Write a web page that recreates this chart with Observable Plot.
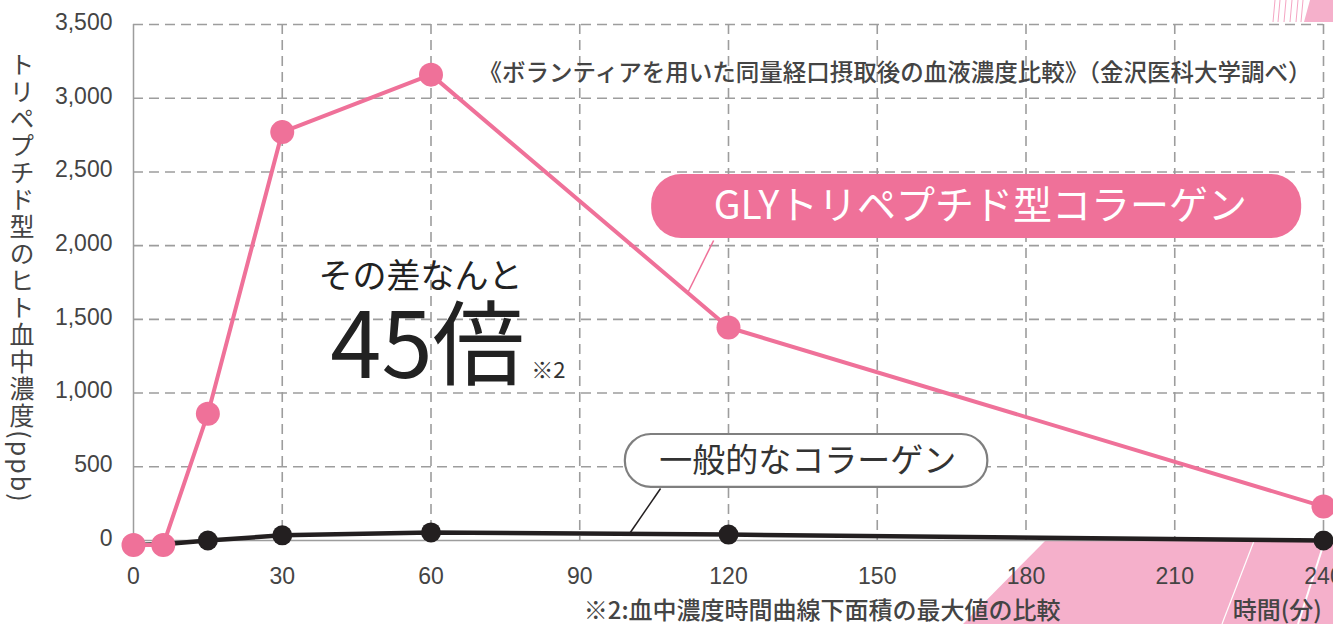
<!DOCTYPE html>
<html>
<head>
<meta charset="utf-8">
<script src="https://cdn.jsdelivr.net/npm/d3@7"></script>
<script src="https://cdn.jsdelivr.net/npm/@observablehq/plot@0.6"></script>
<style>
  html, body { margin: 0; padding: 0; background: #fff; overflow: hidden; }
  #chart svg { display: block; }
</style>
</head>
<body>
<div id="chart"></div>
<script>
// ---- data ----
const times = [0, 6, 15, 30, 60, 120, 240];
const glyValues = [-30, -30, 860, 2770, 3160, 1445, 230];
const genValues = [-30, -25, 0, 35, 55, 40, 0];
const yTicks = [0, 500, 1000, 1500, 2000, 2500, 3000, 3500];
const xTicks = [0, 30, 60, 90, 120, 150, 180, 210, 240];
const glyLabel = ["GLYトリペプチド型コラーゲン"];
const genLabel = ["一般的なコラーゲン"];
const titleText = ["《ボランティアを用いた同量経口摂取後の血液濃度比較》（金沢医科大学調べ）"];
const leadText = ["その差なんと"];
const bigText = ["45倍"];
const noteMark = ["※2"];
const footText = ["※2:血中濃度時間曲線下面積の最大値の比較"];
const xLabel = ["時間(分)"];
const yLabel = "トリペプチド型のヒト血中濃度(ppb)";

const gly = times.map((t, i) => ({t, v: glyValues[i]}));
const gen = times.map((t, i) => ({t, v: genValues[i]}));

const PINK = "#ef7199";
const BLACK = "#231f20";
const GRID = "#9d9d9d";
const FONT = '"Liberation Sans", "Noto Sans CJK JP", sans-serif';
const JFONT = '"Noto Sans CJK JP", "Liberation Sans", sans-serif';

const chart = Plot.plot({
  width: 1333,
  height: 624,
  marginLeft: 133,
  marginRight: 10,
  marginTop: 24,
  marginBottom: 84,
  style: {fontFamily: FONT, fontSize: "23px", color: "#444", background: "white", overflow: "visible"},
  x: {domain: [0, 240]},
  y: {domain: [0, 3500]},
  marks: [
    Plot.ruleY(yTicks.filter(d => d > 0), {stroke: GRID, strokeWidth: 1.6, strokeDasharray: "10,6"}),
    Plot.ruleX(xTicks.filter(d => d > 0), {stroke: GRID, strokeWidth: 1.6, strokeDasharray: "10,6"}),
    Plot.ruleX([0], {stroke: GRID, strokeWidth: 1.5}),
    Plot.ruleY([0], {stroke: GRID, strokeWidth: 1.5}),
    Plot.axisY(yTicks, {tickSize: 0, tickPadding: 21, dy: -2, tickFormat: d3.format(","), fontSize: 23, fill: "#444", label: null}),
    Plot.axisX(xTicks, {tickSize: 0, tickPadding: 27, fontSize: 23, fill: "#444", label: null}),
    // leader lines
    Plot.link([0], {x1: 117, y1: 2035, x2: 111.9, y2: 1689, stroke: PINK, strokeWidth: 1.5}),
    Plot.link([0], {x1: 106.3, y1: 353, x2: 100.2, y2: 54, stroke: BLACK, strokeWidth: 1.5}),
    // series
    Plot.line(gen, {x: "t", y: "v", stroke: BLACK, strokeWidth: 4.5}),
    Plot.dot(gen, {x: "t", y: "v", r: 10, fill: BLACK}),
    Plot.line(gly, {x: "t", y: "v", stroke: PINK, strokeWidth: 4}),
    Plot.dot(gly, {x: "t", y: "v", r: 12, fill: PINK}),
    // label boxes
    Plot.rect([0], {x1: 104.5, x2: 235.6, y1: 2049, y2: 2483, fill: PINK, rx: 30}),
    Plot.text(glyLabel, {x: 170.8, y: 2266, text: d => d, fill: "white", fontSize: 39, fontFamily: JFONT, letterSpacing: 6.5}),
    Plot.rect([0], {x1: 99.2, x2: 172.3, y1: 360, y2: 719, fill: "white", stroke: "#7f7f7f", strokeWidth: 2.2, rx: 26}),
    Plot.text(genLabel, {x: 136, y: 536, text: d => d, fill: "#333", fontSize: 33, fontFamily: JFONT, letterSpacing: 3.5}),
    // annotations
    Plot.text(titleText, {x: 69.6, y: 3168, text: d => d, textAnchor: "start", fill: "#444", fontSize: 23.5, fontWeight: 500, fontFamily: JFONT, letterSpacing: 1.3}),
    Plot.text(leadText, {x: 57.9, y: 1784, text: d => d, fill: "#222", fontSize: 34, fontFamily: JFONT}),
    Plot.text(bigText, {x: 39.7, y: 1300, text: d => d, textAnchor: "start", fill: "#222", fontSize: 92, fontFamily: JFONT}),
    Plot.text(noteMark, {x: 80.2, y: 1153, text: d => d, textAnchor: "start", fill: "#333", fontSize: 22, fontFamily: JFONT}),
    Plot.text(footText, {x: 90.8, y: -482, text: d => d, textAnchor: "start", fill: "#444", fontSize: 24, fontWeight: 500, fontFamily: JFONT, letterSpacing: 1.7}),
    Plot.text(xLabel, {x: 221.7, y: -482, text: d => d, textAnchor: "start", fill: "#444", fontSize: 24, fontWeight: 500, fontFamily: JFONT})
  ]
});

document.getElementById("chart").appendChild(chart);

// decorative pink shapes (background)
const svg = d3.select(chart);
const deco = svg.insert("g", ":first-child");
deco.append("polygon").attr("points", "1045,541 1333,541 1333,624 963,624").attr("fill", "#f5b0cb");
deco.append("line").attr("x1", 1254).attr("y1", 541).attr("x2", 1222).attr("y2", 624).attr("stroke", "white").attr("stroke-width", 1.2);
deco.append("line").attr("x1", 1324).attr("y1", 543).attr("x2", 1298).attr("y2", 624).attr("stroke", "white").attr("stroke-width", 2);
deco.append("polygon").attr("points", "1310,0 1333,0 1333,22 1304,22").attr("fill", "#f5b0cb");
[1273, 1278, 1284, 1290, 1296, 1301].forEach(x => {
  deco.append("line").attr("x1", x + 2).attr("y1", 0).attr("x2", x).attr("y2", 22).attr("stroke", "#f5a5c3").attr("stroke-width", 1);
});
svg.insert("rect", ":first-child").attr("width", 1333).attr("height", 624).attr("fill", "white");

// vertical y-axis label
svg.append("text")
  .attr("x", 22)
  .attr("y", 278)
  .attr("text-anchor", "middle")
  .style("writing-mode", "vertical-rl")
  .attr("font-family", JFONT)
  .attr("font-size", 25)
  .attr("letter-spacing", 2)
  .attr("fill", "#444")
  .text(yLabel);
</script>
</body>
</html>
